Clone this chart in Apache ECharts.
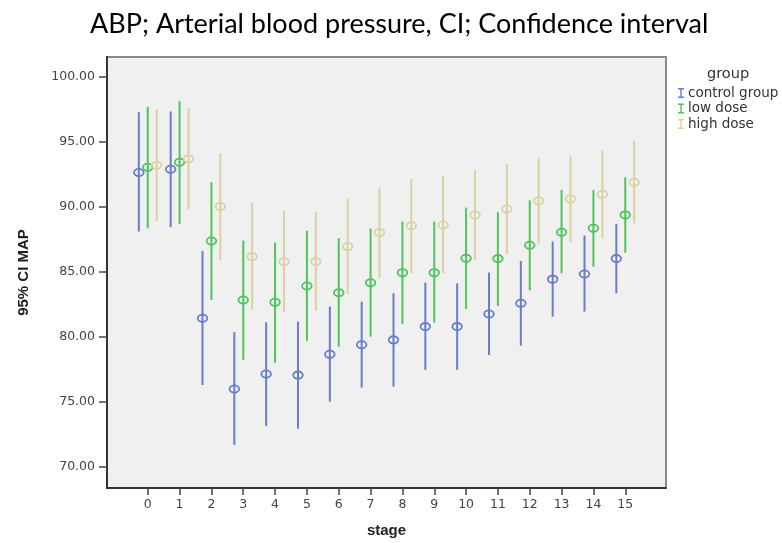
<!DOCTYPE html>
<html>
<head>
<meta charset="UTF-8">
<title>MAP error bars</title>
<script src="https://cdn.jsdelivr.net/npm/echarts@6/dist/echarts.min.js"></script>
</head>
<body style="margin:0;background:#fff;">
<div id="main" style="width:782px;height:543px;"></div>
<script type="text/javascript">
// stage categories and y tick values
var stages = [0, 1, 2, 3, 4, 5, 6, 7, 8, 9, 10, 11, 12, 13, 14, 15];
var yTicks = [70, 75, 80, 85, 90, 95, 100];

// control group: mean and 95% CI
var controlMean = [92.62, 92.87, 81.41, 75.98, 77.13, 77.04, 78.65, 79.38, 79.75, 80.77, 80.77, 81.74, 82.57, 84.42, 84.82, 86.00];
var controlLow  = [88.08, 88.42, 76.28, 71.67, 73.13, 72.93, 75.00, 76.08, 76.15, 77.44, 77.44, 78.59, 79.31, 81.54, 81.92, 83.33];
var controlHigh = [97.26, 97.31, 86.59, 80.34, 81.10, 81.15, 82.31, 82.69, 83.34, 84.15, 84.10, 84.92, 85.82, 87.31, 87.77, 88.67];

// low dose
var lowMean = [93.03, 93.41, 87.36, 82.82, 82.65, 83.90, 83.38, 84.15, 84.92, 84.92, 86.03, 86.00, 87.02, 88.03, 88.34, 89.36];
var lowLow  = [88.34, 88.67, 82.82, 78.21, 78.00, 79.67, 79.23, 80.00, 80.98, 81.08, 82.13, 82.36, 83.56, 84.87, 85.38, 86.46];
var lowHigh = [97.67, 98.10, 91.87, 87.38, 87.23, 88.13, 87.57, 88.31, 88.85, 88.85, 89.92, 89.57, 90.48, 91.28, 91.28, 92.26];

// high dose
var highMean = [93.18, 93.67, 90.00, 86.15, 85.77, 85.77, 86.92, 88.00, 88.52, 88.59, 89.36, 89.82, 90.45, 90.59, 90.95, 91.87];
var highLow  = [88.87, 89.77, 85.90, 82.05, 81.88, 81.98, 83.28, 84.49, 84.88, 84.88, 85.90, 86.36, 87.18, 87.23, 87.57, 88.72];
var highHigh = [97.49, 97.57, 94.10, 90.31, 89.65, 89.57, 90.57, 91.49, 92.13, 92.38, 92.82, 93.26, 93.69, 93.92, 94.31, 95.05];

var myChart = echarts.init(document.getElementById('main'));

function buildData(mean, lo, hi) {
  return stages.map(function (s, i) { return [s, mean[i], lo[i], hi[i]]; });
}

function errorBarSeries(name, color, shift, mean, lo, hi) {
  return {
    name: name,
    type: 'custom',
    itemStyle: { color: color },
    encode: { x: 0, y: [1, 2, 3] },
    data: buildData(mean, lo, hi),
    renderItem: function (params, api) {
      var x = api.value(0) + shift;
      var pm = api.coord([x, api.value(1)]);
      var pl = api.coord([x, api.value(2)]);
      var ph = api.coord([x, api.value(3)]);
      return {
        type: 'group',
        children: [
          {
            type: 'line',
            shape: { x1: pl[0], y1: pl[1], x2: ph[0], y2: ph[1] },
            style: { stroke: color, lineWidth: 2 }
          },
          {
            type: 'ellipse',
            shape: { cx: pm[0], cy: pm[1], rx: 4.8, ry: 3.6 },
            style: { fill: 'none', stroke: color, lineWidth: 1.8 }
          }
        ]
      };
    }
  };
}

var barIcon = 'path://M0,0H6V1.4H3.7V8.6H6V10H0V8.6H2.3V1.4H0Z';

var option = {
  animation: false,
  title: [
    {
      text: 'ABP; Arterial blood pressure, CI; Confidence interval',
      left: 85,
      top: 6,
      textStyle: { fontFamily: 'Lato', fontSize: 27, fontWeight: 'normal', color: '#000' }
    },
    {
      text: 'group',
      left: 702,
      top: 62,
      textStyle: { fontFamily: 'DejaVu Sans', fontSize: 14.5, fontWeight: 'normal', color: '#333' }
    }
  ],
  legend: {
    orient: 'vertical',
    left: 673,
    top: 81,
    itemWidth: 6,
    itemHeight: 10,
    itemGap: 1.5,
    icon: barIcon,
    textStyle: { fontFamily: 'DejaVu Sans', fontSize: 13.5, color: '#333', padding: [0, 0, 0, -1] },
    data: ['control group', 'low dose', 'high dose']
  },
  grid: {
    left: 107,
    right: 116,
    top: 57,
    bottom: 55,
    show: true,
    backgroundColor: '#f0f0f0',
    borderColor: '#8a8a8a',
    borderWidth: 2
  },
  xAxis: {
    type: 'value',
    min: -1.28,
    max: 16.28,
    name: 'stage',
    nameLocation: 'middle',
    nameGap: 35,
    nameTextStyle: { fontFamily: 'Liberation Sans', fontSize: 15, fontWeight: 'bold', color: '#222' },
    axisLine: { show: true, onZero: false, lineStyle: { color: '#333', width: 2 } },
    axisTick: { show: true, customValues: stages, length: 7, lineStyle: { color: '#444', width: 1.5 } },
    axisLabel: { customValues: stages, margin: 10, fontFamily: 'DejaVu Sans', fontSize: 12.5, color: '#444' },
    splitLine: { show: false }
  },
  yAxis: {
    type: 'value',
    min: 68.36,
    max: 101.5,
    name: '95% CI MAP',
    nameLocation: 'middle',
    nameRotate: 90,
    nameGap: 76,
    nameTextStyle: { fontFamily: 'Liberation Sans', fontSize: 15, fontWeight: 'bold', color: '#222' },
    axisLine: { show: true, onZero: false, lineStyle: { color: '#333', width: 2 } },
    axisTick: { show: true, customValues: yTicks, length: 8, lineStyle: { color: '#444', width: 1.5 } },
    axisLabel: {
      customValues: yTicks,
      margin: 12,
      fontFamily: 'DejaVu Sans',
      fontSize: 12.5,
      color: '#444',
      formatter: function (v) { return v.toFixed(2); }
    },
    splitLine: { show: false }
  },
  series: [
    errorBarSeries('control group', '#6a7ccc', -0.28, controlMean, controlLow, controlHigh),
    errorBarSeries('low dose', '#4fc45c', 0, lowMean, lowLow, lowHigh),
    errorBarSeries('high dose', '#d9d2a2', 0.28, highMean, highLow, highHigh)
  ]
};
myChart.setOption(option);
</script>
</body>
</html>
